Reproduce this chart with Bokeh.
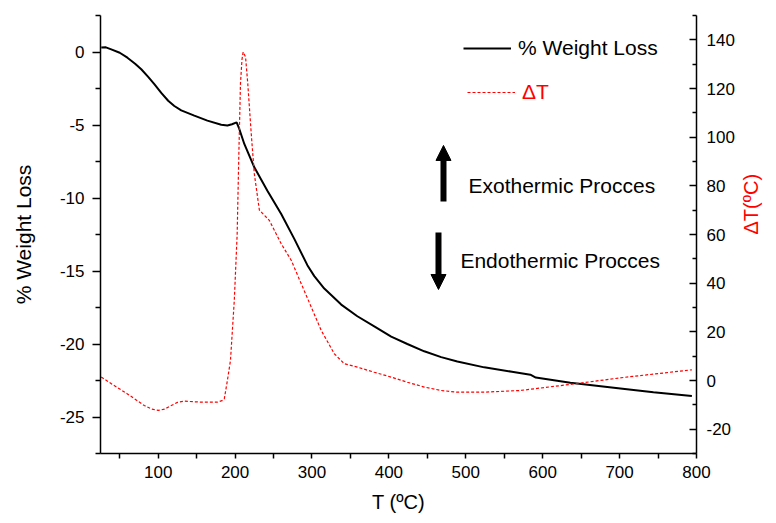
import math
from bokeh.plotting import figure
from bokeh.models import (Range1d, LinearAxis, FixedTicker, Legend, LegendItem,
                          Label, Arrow, NormalHead, CustomJSTickFormatter)
from bokeh.embed import file_html
from bokeh.resources import INLINE

# ---- data ----
wl_temp = [26, 32, 39, 50, 60, 70, 78, 87, 95, 104, 113, 121, 130, 147, 164, 182,
           190, 196, 202, 205.5, 212, 225, 242, 260, 277, 294, 303, 316, 338, 359, 381,
           403, 424, 446, 468, 489, 524, 560, 584, 591, 636, 701, 744, 794]
wl_loss = [0.3, 0.32, 0.18, -0.05, -0.39, -0.8, -1.18, -1.7, -2.2, -2.8, -3.34, -3.7,
           -4.0, -4.36, -4.7, -4.98, -5.04, -4.95, -4.82, -5.27, -6.3, -7.9, -9.5,
           -11.1, -12.8, -14.6, -15.35, -16.2, -17.3, -18.1, -18.8, -19.5, -20.0, -20.5,
           -20.9, -21.2, -21.6, -21.9, -22.1, -22.3, -22.65, -23.04, -23.3, -23.56]

dt_temp = [26, 40, 60, 82, 92, 100, 108, 117, 125, 134, 156, 177, 183, 186, 190, 194,
           199, 202.7, 205, 207, 209, 210.5, 213.6, 216.5, 221, 225, 231.6, 236,
           244.5, 260, 273, 286, 299, 312, 329, 342, 359, 381, 403, 424, 446, 468,
           489, 524, 571, 636, 701, 794]
dt_val = [1.4, -1.5, -5.5, -10.3, -11.8, -12.3, -11.8, -10.3, -9.0, -8.5, -8.9, -8.9,
          -8.3, -7.5, 0, 8.2, 33, 60, 94.5, 122, 132, 135, 133, 122, 101.5, 85, 70,
          68.6, 65.8, 56.2, 49.4, 39.8, 30.2, 20.6, 11, 6.9, 5.5, 3.4, 1.4, -0.7,
          -2.7, -4.1, -4.8, -4.8, -4.1, -1.6, 1.1, 4.4]

x_major = [100, 200, 300, 400, 500, 600, 700, 800]
x_minor = [50, 150, 250, 350, 450, 550, 650, 750]
wl_major = [-25, -20, -15, -10, -5, 0]
wl_minor = [-27.5, -22.5, -17.5, -12.5, -7.5, -2.5, 2.5]
dt_major = [-20, 0, 20, 40, 60, 80, 100, 120, 140]
dt_minor = [-30, -10, 10, 30, 50, 70, 90, 110, 130, 150]

FONT = "Liberation Sans"

p = figure(width=776, height=523, output_backend="svg", toolbar_location=None,
           x_range=Range1d(25, 800), y_range=Range1d(-27.5, 2.5),
           min_border_left=100, min_border_right=80, min_border_top=15,
           min_border_bottom=70)
p.extra_y_ranges = {"dt": Range1d(-30, 150)}
p.outline_line_color = None
p.grid.visible = False
p.background_fill_color = "white"
p.border_fill_color = "white"


def style_axis(ax):
    ax.axis_line_width = 1.5
    ax.axis_line_color = "black"
    ax.major_tick_line_width = 1.5
    ax.minor_tick_line_width = 1.5
    ax.major_tick_line_color = "black"
    ax.minor_tick_line_color = "black"
    ax.major_label_text_font = FONT
    ax.major_label_text_font_size = "17px"
    ax.major_label_text_color = "black"
    ax.axis_label_text_font = FONT
    ax.axis_label_text_font_style = "normal"
    ax.axis_label_text_font_size = "20px"
    ax.axis_label_text_color = "black"
    ax.formatter = CustomJSTickFormatter(code="return tick.toString();")


xa = p.xaxis[0]
style_axis(xa)
xa.ticker = FixedTicker(ticks=x_major, minor_ticks=x_minor)
xa.axis_label = "T (ºC)"
xa.major_tick_out = 5
xa.major_tick_in = 0
xa.minor_tick_out = 5
xa.minor_tick_in = 0
xa.major_label_standoff = 7
xa.axis_label_standoff = 10

ya = p.yaxis[0]
style_axis(ya)
ya.ticker = FixedTicker(ticks=wl_major, minor_ticks=wl_minor)
ya.axis_label = "% Weight Loss"
ya.axis_label_text_font_size = "21px"
ya.major_tick_out = 8
ya.major_tick_in = 0
ya.minor_tick_out = 5
ya.minor_tick_in = 0
ya.major_label_standoff = 8
ya.axis_label_standoff = 22

ra = LinearAxis(y_range_name="dt")
style_axis(ra)
ra.ticker = FixedTicker(ticks=dt_major, minor_ticks=dt_minor)
ra.axis_label = "ΔT(ºC)"
ra.axis_label_text_color = "red"
ra.axis_label_orientation = math.pi / 2
ra.major_tick_out = 0
ra.major_tick_in = 7
ra.minor_tick_out = 0
ra.minor_tick_in = 4
ra.major_label_standoff = 10
ra.axis_label_standoff = 13
p.add_layout(ra, "right")

r_wl = p.line(wl_temp, wl_loss, line_color="black", line_width=2)
r_dt = p.line(dt_temp, dt_val, line_color="red", line_width=1.2,
              line_dash="3 2", y_range_name="dt")

for label, rend, color, loc in [("% Weight Loss", r_wl, "black", (363, 393)),
                                ("ΔT", r_dt, "red", (367, 349))]:
    lg = Legend(items=[LegendItem(label=label, renderers=[rend])], location=loc,
                padding=0, margin=0, border_line_alpha=0, background_fill_alpha=0,
                glyph_width=48, glyph_height=24, label_height=24, label_standoff=7,
                label_text_font=FONT, label_text_font_size="21px",
                label_text_color=color)
    p.add_layout(lg, "center")

# annotation placement (in ΔT axis units)
up_x, up_from, up_to = 471, 73.6, 96.6
dn_x, dn_from, dn_to = 464.5, 60.8, 37.4

for xx, y0, y1 in [(up_x, up_from, up_to), (dn_x, dn_from, dn_to)]:
    p.add_layout(Arrow(end=NormalHead(size=15, fill_color="black", line_color="black"),
                       x_start=xx, y_start=y0, x_end=xx, y_end=y1,
                       line_width=6, line_color="black", y_range_name="dt"))

p.add_layout(Label(x=503.5, y=80.1, y_range_name="dt", text="Exothermic Procces",
                   text_baseline="middle", text_font=FONT, text_font_size="21px",
                   text_color="black"))
p.add_layout(Label(x=493, y=49.5, y_range_name="dt", text="Endothermic Procces",
                   text_baseline="middle", text_font=FONT, text_font_size="21px",
                   text_color="black"))

open("out.html", "w").write(file_html(p, INLINE))
